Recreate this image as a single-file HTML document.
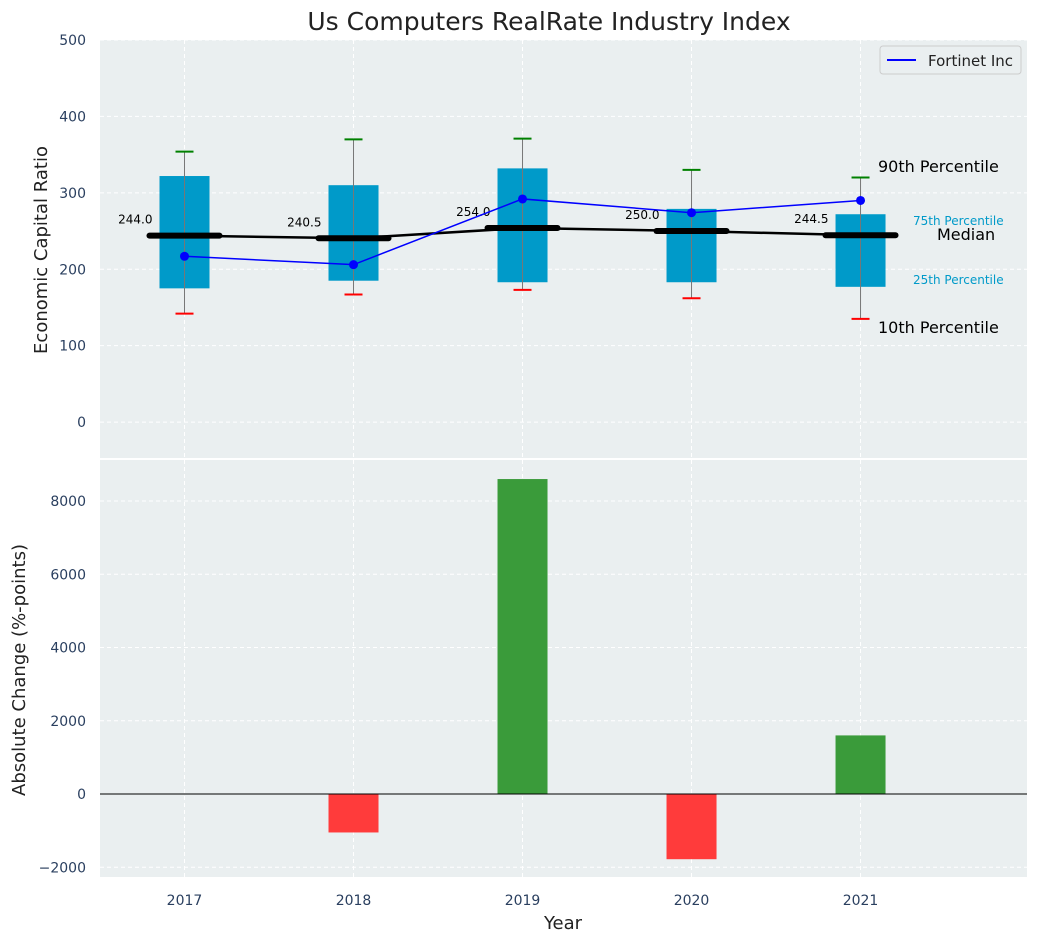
<!DOCTYPE html>
<html><head><meta charset="utf-8"><style>
body{margin:0;background:#fff;font-family:"Liberation Sans","DejaVu Sans",sans-serif}
svg text{font-family:"DejaVu Sans","Liberation Sans",sans-serif}
</style></head><body>
<svg id="c" width="1039" height="942" xmlns="http://www.w3.org/2000/svg"></svg>
<script>
const years=[2017,2018,2019,2020,2021];
const p10=[142,167,173,162,135];
const q1=[175,185,183,183,177];
const med=[244.0,240.5,254.0,250.0,244.5];
const q3=[322,310,332,279,272];
const p90=[354,370,371,330,320];
const fortinet=[217,206,292,274,290];
const change=[0,-1050,8600,-1780,1600];
const topTicks=[0,100,200,300,400,500];
const botTicks=[-2000,0,2000,4000,6000,8000];

const NS="http://www.w3.org/2000/svg";
const svg=document.getElementById('c');
function el(t,a,p){const e=document.createElementNS(NS,t);for(const k in a)e.setAttribute(k,a[k]);(p||svg).appendChild(e);return e;}
const L=100,R=1027;
const X=v=>L+(v-2016.5)/(2021.985-2016.5)*(R-L);
const T0=40,T1=458,B0=460,B1=877;
const YT=v=>T1-(v-(-47))/(500-(-47))*(T1-T0);
const YB=v=>B1-(v-(-2266))/(9120-(-2266))*(B1-B0);

let e=el('rect',{x:L,y:T0,width:R-L,height:T1-T0,fill:'#eaeff0'});

e=el('rect',{x:L,y:B0,width:R-L,height:B1-B0,fill:'#eaeff0'});


years.forEach(y=>{
 el('line',{x1:X(y),x2:X(y),y1:T0,y2:T1,stroke:'#fff','stroke-dasharray':'4,3','stroke-width':1});
 el('line',{x1:X(y),x2:X(y),y1:B0,y2:B1,stroke:'#fff','stroke-dasharray':'4,3','stroke-width':1});
 e=el('text',{x:X(y),y:905,'text-anchor':'middle','font-size':14,fill:'#2a3f5f'});e.textContent=y;
 
});
topTicks.forEach(v=>{
 el('line',{x1:L,x2:R,y1:YT(v),y2:YT(v),stroke:'#fff','stroke-dasharray':'4,3'});
 e=el('text',{x:86,y:YT(v)+5,'text-anchor':'end','font-size':14,fill:'#2a3f5f'});e.textContent=v;
 
});
botTicks.forEach(v=>{
 el('line',{x1:L,x2:R,y1:YB(v),y2:YB(v),stroke:'#fff','stroke-dasharray':'4,3'});
 e=el('text',{x:86,y:YB(v)+5,'text-anchor':'end','font-size':14,fill:'#2a3f5f'});e.textContent=v<0?'\u2212'+(-v):v;
 
});

years.forEach((y,i)=>{
 const cx=X(y);
 e=el('rect',{x:cx-25,y:YT(q3[i]),width:50,height:YT(q1[i])-YT(q3[i]),fill:'#009ac9'});
 
 el('line',{x1:cx,x2:cx,y1:YT(p90[i]),y2:YT(p10[i]),stroke:'#777','stroke-width':1});
 e=el('line',{x1:cx-9,x2:cx+9,y1:YT(p90[i]),y2:YT(p90[i]),stroke:'green','stroke-width':2});
 
 e=el('line',{x1:cx-9,x2:cx+9,y1:YT(p10[i]),y2:YT(p10[i]),stroke:'red','stroke-width':2});
 
 e=el('line',{x1:cx-35,x2:cx+35,y1:YT(med[i]),y2:YT(med[i]),stroke:'#000','stroke-width':6,'stroke-linecap':'round'});
 
 e=el('text',{x:cx-32,y:YT(med[i])-12,'text-anchor':'end','font-size':12,fill:'#000'});e.textContent=med[i].toFixed(1);
 
});
e=el('polyline',{points:years.map((y,i)=>X(y)+','+YT(med[i])).join(' '),fill:'none',stroke:'#000','stroke-width':2.5});

e=el('polyline',{points:years.map((y,i)=>X(y)+','+YT(fortinet[i])).join(' '),fill:'none',stroke:'blue','stroke-width':1.5});

years.forEach((y,i)=>{e=el('circle',{cx:X(y),cy:YT(fortinet[i]),r:4.5,fill:'blue'});
 });

const ann=[['90th Percentile',878,172,16,'#000'],['75th Percentile',913,225,12,'#009ac9'],['Median',937,240,16,'#000'],['25th Percentile',913,284,12,'#009ac9'],['10th Percentile',878,333,16,'#000']];
ann.forEach(a=>{e=el('text',{x:a[1],y:a[2],'font-size':a[3],fill:a[4]});e.textContent=a[0];
 });

const g=el('g',{});
el('rect',{x:880,y:46,width:141,height:28,fill:'#eaeff0',stroke:'#ccc',rx:3},g);
el('line',{x1:887,x2:916,y1:60,y2:60,stroke:'blue','stroke-width':2},g);
e=el('text',{x:928,y:66,'font-size':15,fill:'#222'},g);e.textContent='Fortinet Inc';

years.forEach((y,i)=>{const v=change[i];if(v===0)return;
 e=el('rect',{x:X(y)-25,y:Math.min(YB(v),YB(0)),width:50,height:Math.abs(YB(v)-YB(0)),fill:v>0?'#3a9b3a':'#ff3b3b'});
 });
el('line',{x1:L,x2:R,y1:YB(0),y2:YB(0),stroke:'#000','stroke-width':1});

e=el('text',{x:549,y:30,'text-anchor':'middle','font-size':25,fill:'#222'});e.textContent='Us Computers RealRate Industry Index';

e=el('text',{x:0,y:0,'text-anchor':'middle','font-size':18,fill:'#222',transform:'translate(47,250) rotate(-90)'});e.textContent='Economic Capital Ratio';

e=el('text',{x:0,y:0,'text-anchor':'middle','font-size':18,fill:'#222',transform:'translate(25,670) rotate(-90)'});e.textContent='Absolute Change (%-points)';

e=el('text',{x:563,y:929,'text-anchor':'middle','font-size':18,fill:'#222'});e.textContent='Year';

</script>
</body></html>
